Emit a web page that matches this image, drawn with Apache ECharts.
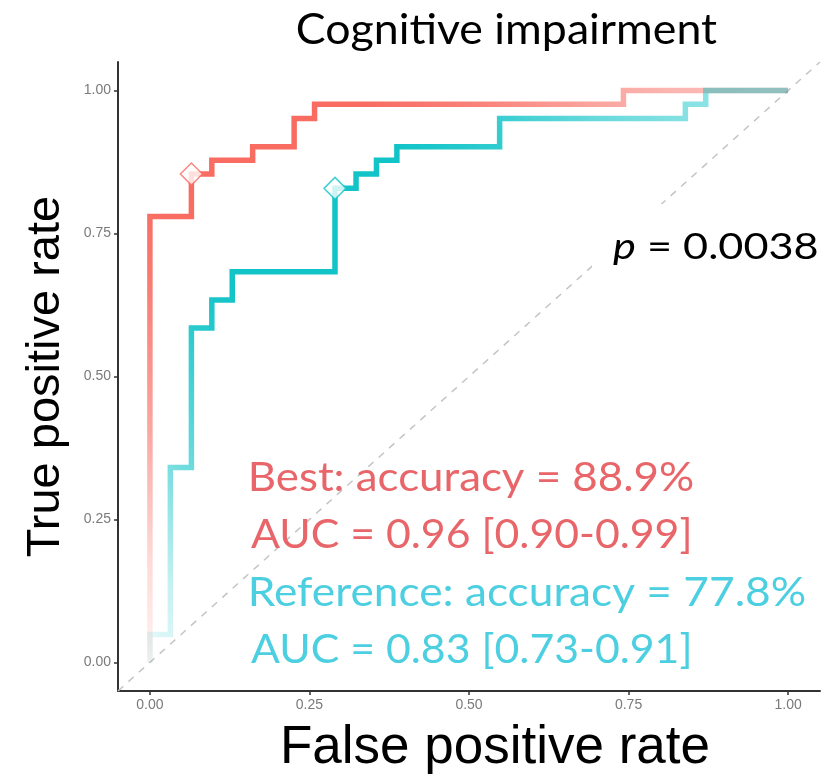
<!DOCTYPE html>
<html><head><meta charset="utf-8">
<script src="https://cdn.jsdelivr.net/npm/echarts@6/dist/echarts.min.js"></script>
<style>html,body{margin:0;padding:0;background:#fff}#c{width:838px;height:780px}</style>
</head><body><div id="c"></div>
<script>
// ---- data ----
const bestFpr = [0, 0, 0.065, 0.065, 0.097, 0.097, 0.161, 0.161, 0.226, 0.226, 0.258, 0.258, 0.742, 0.742, 1];
const bestTpr = [0, 0.780, 0.780, 0.854, 0.854, 0.878, 0.878, 0.902, 0.902, 0.951, 0.951, 0.976, 0.976, 1, 1];
const refFpr = [0, 0, 0.032, 0.032, 0.065, 0.065, 0.097, 0.097, 0.129, 0.129, 0.290, 0.290, 0.323, 0.323, 0.355, 0.355, 0.387, 0.387, 0.548, 0.548, 0.839, 0.839, 0.871, 0.871, 1];
const refTpr = [0, 0.049, 0.049, 0.341, 0.341, 0.585, 0.585, 0.634, 0.634, 0.683, 0.683, 0.829, 0.829, 0.854, 0.854, 0.878, 0.878, 0.902, 0.902, 0.951, 0.951, 0.976, 0.976, 1, 1];
const bestPoint = [0.065, 0.854];
const refPoint = [0.290, 0.829];
const diagonal = [[-0.05, -0.05], [1.05, 1.05]];
const axisTicks = [0, 0.25, 0.5, 0.75, 1];
const titleText = 'Cognitive impairment';
const xTitle = 'False positive rate';
const yTitle = 'True positive rate';
const pValue = '0.0038';
const annotationLines = ['Best: accuracy = 88.9%', 'AUC = 0.96 [0.90-0.99]', 'Reference: accuracy = 77.8%', 'AUC = 0.83 [0.73-0.91]'];

// ---- styling ----
const RED = '248,108,98';
const CYAN = '18,196,200';
const RED_TXT = '#E8666A';
const CYAN_TXT = '#4CCFE0';
const annotColors = [RED_TXT, RED_TXT, CYAN_TXT, CYAN_TXT];
const annotLayout = {left: 251, baselines: [490, 547, 605, 662], widths: [442, 438, 554, 438], size: 40};
const FONT = 'Lato';

const mctx = document.createElement('canvas').getContext('2d');
function glyphBox(font, s) {
  mctx.font = font;
  const m = mctx.measureText(s);
  return {w: m.actualBoundingBoxLeft + m.actualBoundingBoxRight, l: m.actualBoundingBoxLeft, r: m.actualBoundingBoxRight, adv: m.width};
}
function fittedText(s, left, baseline, size, targetW, color) {
  const b = glyphBox('normal ' + size + 'px ' + FONT, s);
  const sx = targetW / b.w;
  return {
    type: 'text', z: 100, x: left + b.l * sx, y: baseline - 0.3 * size, scaleX: sx,
    style: {text: s, fill: color, fontSize: size, fontFamily: FONT, align: 'left', verticalAlign: 'middle'}
  };
}

const graphics = [];
// white box behind p-value (hides the dashed line there)
graphics.push({type: 'rect', z: 90, shape: {x: 592, y: 204, width: 228, height: 63}, style: {fill: '#fff'}});
graphics.push(fittedText(titleText, 298, 43, 42, 419, '#000'));
annotationLines.forEach((s, i) => {
  graphics.push(fittedText(s, annotLayout.left, annotLayout.baselines[i], annotLayout.size, annotLayout.widths[i], annotColors[i]));
});
// p = 0.0038 (italic p)
(function () {
  const size = 37, left = 613, base = 258, target = 204;
  const pB = glyphBox('italic ' + size + 'px ' + FONT, 'p');
  const rest = ' = ' + pValue;
  const rB = glyphBox('normal ' + size + 'px ' + FONT, rest);
  const span = pB.l + pB.adv + rB.r;
  const sx = target / span;
  graphics.push({type: 'text', z: 100, x: left + pB.l * sx, y: base - 0.3 * size, scaleX: sx,
    style: {text: 'p', fill: '#000', fontSize: size, fontFamily: FONT, fontStyle: 'italic', align: 'left', verticalAlign: 'middle'}});
  graphics.push({type: 'text', z: 100, x: left + (pB.l + pB.adv) * sx, y: base - 0.3 * size, scaleX: sx,
    style: {text: rest, fill: '#000', fontSize: size, fontFamily: FONT, align: 'left', verticalAlign: 'middle'}});
})();

const pairs = (xs, ys) => xs.map((x, i) => [x, ys[i]]);
const axisCommon = {
  type: 'value', min: -0.05, max: 1.05, nameLocation: 'middle',
  axisLine: {show: true, onZero: false, lineStyle: {color: '#333', width: 2}},
  axisTick: {show: true, customValues: axisTicks, length: 4, lineStyle: {color: '#333', width: 1.5}},
  axisLabel: {customValues: axisTicks, formatter: v => v.toFixed(2), color: '#7a7a7a', fontSize: 14, fontFamily: 'Liberation Sans', margin: 7},
  splitLine: {show: false}
};

const chart = echarts.init(document.getElementById('c'), null, {renderer: 'canvas'});
const option = {
  animation: false,
  backgroundColor: '#fff',
  grid: {left: 118, right: 18, top: 62, bottom: 89, outerBoundsMode: 'none'},
  xAxis: Object.assign({}, axisCommon, {name: xTitle, nameGap: 31,
    nameTextStyle: {fontFamily: 'Liberation Sans', fontSize: 53, color: '#000', padding: [0, 0, 0, 52]}}),
  yAxis: Object.assign({}, axisCommon, {name: yTitle, nameGap: 48,
    nameTextStyle: {fontFamily: 'Liberation Sans', fontSize: 47, color: '#000'}}),
  series: [
    {type: 'line', id: 'diag', data: diagonal, symbol: 'none', silent: true, z: 1,
      lineStyle: {type: [7, 7], color: '#c4c4c4', width: 1.5}},
    {type: 'line', id: 'best', name: 'Best', data: pairs(bestFpr, bestTpr), symbol: 'none', z: 2,
      lineStyle: {width: 5.5, color: 'rgb(' + RED + ')', join: 'miter', cap: 'butt'}},
    {type: 'line', id: 'ref', name: 'Reference', data: pairs(refFpr, refTpr), symbol: 'none', z: 3,
      lineStyle: {width: 5.5, color: 'rgb(' + CYAN + ')', join: 'miter', cap: 'butt'}},
    {type: 'scatter', data: [bestPoint], symbol: 'diamond', symbolSize: 22, z: 5,
      itemStyle: {color: '#fff', borderColor: 'rgb(' + RED + ')', borderWidth: 1.5}},
    {type: 'scatter', data: [refPoint], symbol: 'diamond', symbolSize: 22, z: 5,
      itemStyle: {color: '#fff', borderColor: 'rgb(' + CYAN + ')', borderWidth: 1.5}}
  ],
  graphic: graphics
};
chart.setOption(option);

// alpha fade along the curve direction (low at bottom-left, high in middle, lighter top-right)
const p0 = chart.convertToPixel({gridIndex: 0}, [0, 0]);
const p1 = chart.convertToPixel({gridIndex: 0}, [1, 1]);
const fade = [[0, 0.08], [0.08, 0.25], [0.18, 0.6], [0.3, 0.9], [0.36, 1], [0.62, 1], [0.72, 0.85], [0.82, 0.62], [0.9, 0.5], [1, 0.45]];
function grad(rgb) {
  return new echarts.graphic.LinearGradient(p0[0], p0[1], p1[0], p1[1],
    fade.map(s => ({offset: s[0], color: 'rgba(' + rgb + ',' + s[1] + ')'})), true);
}
chart.setOption({series: [{id: 'best', lineStyle: {color: grad(RED)}}, {id: 'ref', lineStyle: {color: grad(CYAN)}}]});
</script></body></html>
